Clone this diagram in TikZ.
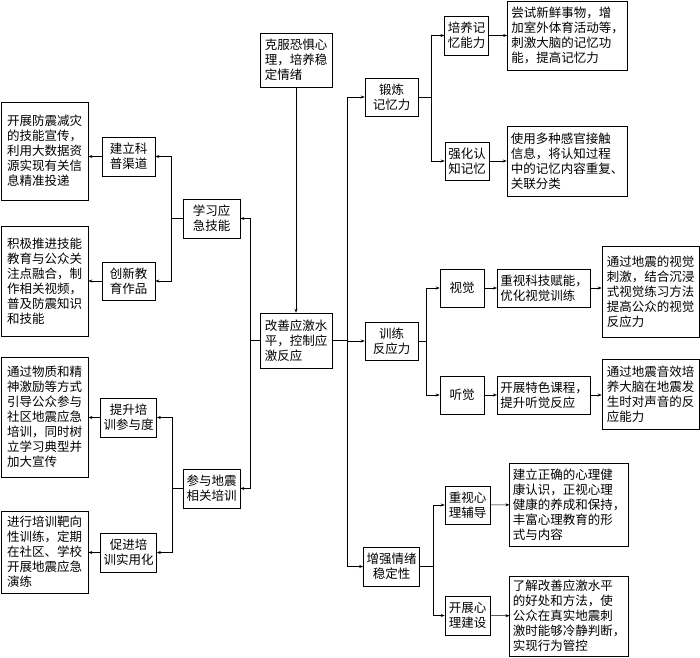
\documentclass[tikz,border=0pt]{standalone}
\usepackage{fontspec}
\newfontfamily\cjk{Noto Sans CJK SC}
\usetikzlibrary{arrows.meta}
\tikzset{
  bx/.style 2 args={draw, line width=.6pt, inner xsep=3pt, inner ysep=2pt,
    minimum width=#1, minimum height=#2, align=center},
  lbx/.style 2 args={bx={#1}{#2}, align=left},
  arr/.style={line width=.6pt, -{Stealth[length=4pt,width=3pt]}},
  ln/.style={line width=.6pt}
}
\begin{document}
\begin{tikzpicture}[x=1pt,y=-1pt,font=\cjk\fontsize{12.5}{15}\selectfont]
\useasboundingbox (0,0) rectangle (700,657);
% centre
\node[lbx={72pt}{54pt}] (fear) at (296,60) {克服恐惧心\\理，培养稳\\定情绪};
\node[lbx={72pt}{55pt}] (core) at (296,340.5) {改善应激水\\平，控制应\\激反应};
\draw[arr] (fear) -- (core);
% left side
\node[bx={57pt}{39pt}] (learn) at (211.5,218.5) {学习应\\急技能};
\node[bx={57pt}{39pt}] (train) at (211.5,488.5) {参与地震\\相关培训};
\node[bx={53pt}{39pt}] (pop) at (128.5,156.5) {建立科\\普渠道};
\node[bx={53pt}{38pt}] (edu) at (128.5,281) {创新教\\育作品};
\node[bx={53pt}{39pt}] (part) at (128.5,417.5) {提升培\\训参与度};
\node[bx={53pt}{39pt}] (prac) at (128.5,552.5) {促进培\\训实用化};
\node[lbx={87pt}{98pt}] (popd) at (44.5,151) {开展防震减灾\\的技能宣传，\\利用大数据资\\源实现有关信\\息精准投递};
\node[lbx={87pt}{110pt}] (edud) at (44.5,281) {积极推进技能\\教育与公众关\\注点融合，制\\作相关视频，\\普及防震知识\\和技能};
\node[lbx={87pt}{120pt}] (partd) at (44.5,417) {通过物质和精\\神激励等方式\\引导公众参与\\社区地震应急\\培训，同时树\\立学习典型并\\加大宣传};
\node[lbx={87pt}{82pt}] (pracd) at (44.5,552) {进行培训靶向\\性训练，定期\\在社区、学校\\开展地震应急\\演练};
\draw[ln] (core.west) -- ++(-9,0) coordinate (lt);
\draw[arr] (lt) |- (learn.east);
\draw[arr] (lt) |- (train.east);
\draw[ln] (learn.west) -- ++(-11,0) coordinate (l1);
\draw[arr] (l1) |- (pop.east);
\draw[arr] (l1) |- (edu.east);
\draw[ln] (train.west) -- ++(-10,0) coordinate (l2);
\draw[arr] (l2) |- (part.east);
\draw[arr] (l2) |- (prac.east);
\draw[arr] (pop.west) -- (pop.west -| popd.east);
\draw[arr] (edu.west) -- (edu.west -| edud.east);
\draw[arr] (part.west) -- (part.west -| partd.east);
\draw[arr] (prac.west) -- (prac.west -| pracd.east);
% right side
\node[bx={53pt}{38pt}] (mem) at (391.5,97) {锻炼\\记忆力};
\node[bx={53pt}{38pt}] (react) at (391.5,341) {训练\\反应力};
\node[bx={53pt}{39pt}] (emo) at (391.5,566.5) {增强情绪\\稳定性};
\draw[ln] (core.east) -- ++(15,0) coordinate (rt);
\draw[arr] (rt) |- (mem.west);
\draw[arr] (rt) |- (react.west);
\draw[arr] (rt) |- (emo.west);
% memory
\node[bx={43pt}{39pt}] (memA) at (466.5,35.5) {培养记\\忆能力};
\node[bx={44pt}{38pt}] (memB) at (467,161) {强化认\\知记忆};
\node[lbx={120pt}{69pt}] (memAd) at (567.5,35.5) {尝试新鲜事物，增\\加室外体育活动等，\\刺激大脑的记忆功\\能，提高记忆力};
\node[lbx={120pt}{70pt}] (memBd) at (567,161) {使用多种感官接触\\信息，将认知过程\\中的记忆内容重复、\\关联分类};
\draw[ln] (mem.east) -- ++(13,0) coordinate (m1);
\draw[arr] (m1) |- (memA.west);
\draw[arr] (m1) |- (memB.west);
\draw[arr] (memA) -- (memAd);
\draw[arr] (memB) -- (memBd);
% reaction
\node[bx={44pt}{38pt}] (vis) at (462,288) {视觉};
\node[bx={44pt}{38pt}] (aud) at (462,395) {听觉};
\node[lbx={88pt}{38pt}] (visA) at (544,288) {重视科技赋能，\\优化视觉训练};
\node[lbx={88pt}{38pt}] (audA) at (544,395) {开展特色课程，\\提升听觉反应};
\node[lbx={97pt}{91pt}] (visB) at (650.5,291.5) {通过地震的视觉\\刺激，结合沉浸\\式视觉练习方法\\提高公众的视觉\\反应力};
\node[lbx={97pt}{70pt}] (audB) at (650.5,394) {通过地震音效培\\养大脑在地震发\\生时对声音的反\\应能力};
\draw[ln] (react.east) -- ++(8,0) coordinate (r1);
\draw[arr] (r1) |- (vis.west);
\draw[arr] (r1) |- (aud.west);
\draw[arr] (vis) -- (visA);
\draw[arr] (visA.east) -- (visA.east -| visB.west);
\draw[arr] (aud) -- (audA);
\draw[arr] (audA.east) -- (audA.east -| audB.west);
% emotion
\node[bx={45pt}{38pt}] (emoA) at (467.5,505) {重视心\\理辅导};
\node[bx={45pt}{39pt}] (emoB) at (467.5,615.5) {开展心\\理建设};
\node[lbx={114pt}{83pt}] (emoAd) at (569,504.5) {建立正确的心理健\\康认识，正视心理\\健康的养成和保持，\\丰富心理教育的形\\式与内容};
\node[lbx={114pt}{80pt}] (emoBd) at (569,616) {了解改善应激水平\\的好处和方法，使\\公众在真实地震刺\\激时能够冷静判断，\\实现行为管控};
\draw[ln] (emo.east) -- ++(13,0) coordinate (e1);
\draw[arr] (e1) |- (emoA.west);
\draw[arr] (e1) |- (emoB.west);
\draw[arr] (emoA) -- (emoAd);
\draw[arr] (emoB) -- (emoBd);
\end{tikzpicture}
\end{document}
